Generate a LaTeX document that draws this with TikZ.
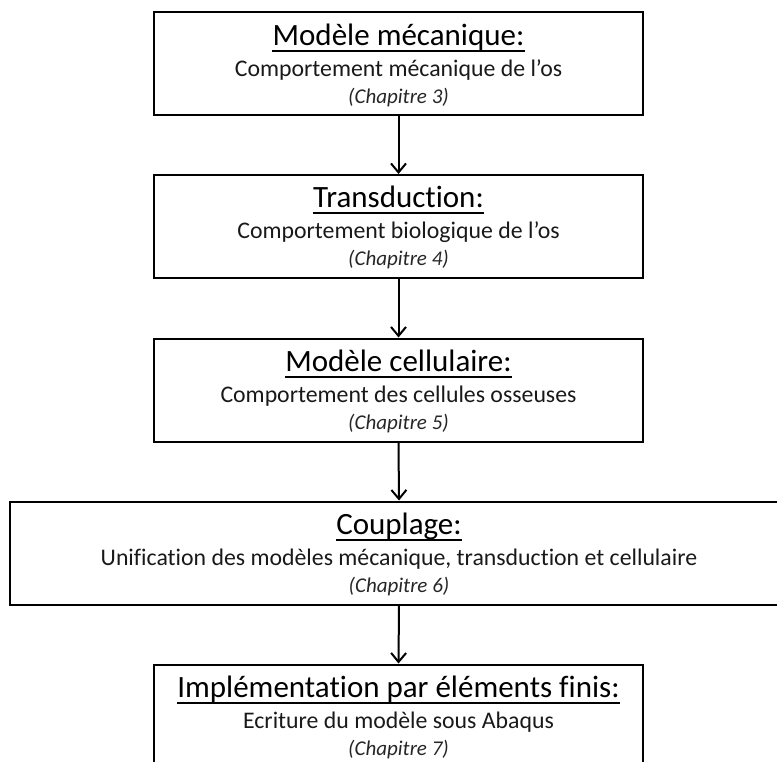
\documentclass[tikz,border=0pt]{standalone}
\usepackage{fontspec}
\setmainfont{Carlito}[Ligatures={NoCommon}]
\usetikzlibrary{arrows.meta}
\begin{document}
\begin{tikzpicture}[x=1pt,y=-1pt,
  stage/.style={draw=black,line width=2pt,minimum height=103pt,inner sep=0pt},
  ttl/.style={anchor=base,inner sep=0pt,font=\fontsize{31}{36}\selectfont,text=black},
  sub/.style={anchor=base,inner sep=0pt,font=\fontsize{23.8}{28}\selectfont,text=black!90},
  chap/.style={anchor=base,inner sep=0pt,font=\fontsize{21}{24}\selectfont\itshape,text=black!85},
  ulin/.style={line width=2pt},
  flow/.style={line width=2pt,-{Straight Barb[length=9pt,width=15pt,line width=2pt]}}]
\useasboundingbox (0,0) rectangle (777,762);
\node[stage,minimum width=489pt] (b1) at (398.5,64) {};
\node[stage,minimum width=489pt] (b2) at (398.5,226.5) {};
\node[stage,minimum width=489pt] (b3) at (398.5,390) {};
\node[stage,minimum width=778pt] (b4) at (399,553) {};
\node[stage,minimum width=489pt] (b5) at (398.5,716) {};

\node[ttl] (t1) at ([yshift=-34pt]b1.north) {Modèle mécanique:};
\node[sub] (s1) at ([yshift=-65pt]b1.north) {Comportement mécanique de l’os};
\node[chap] (c1) at ([yshift=-92pt]b1.north) {(Chapitre 3)};

\node[ttl] (t2) at ([yshift=-34pt]b2.north) {Transduction:};
\node[sub] (s2) at ([yshift=-65pt]b2.north) {Comportement biologique de l’os};
\node[chap] (c2) at ([yshift=-92pt]b2.north) {(Chapitre 4)};

\node[ttl] (t3) at ([yshift=-34pt]b3.north) {Modèle cellulaire:};
\node[sub] (s3) at ([yshift=-65pt]b3.north) {Comportement des cellules osseuses};
\node[chap] (c3) at ([yshift=-92pt]b3.north) {(Chapitre 5)};

\node[ttl] (t4) at ([yshift=-34pt]b4.north) {Couplage:};
\node[sub] (s4) at ([yshift=-65pt]b4.north) {Unification des modèles mécanique, transduction et cellulaire};
\node[chap] (c4) at ([yshift=-92pt]b4.north) {(Chapitre 6)};

\node[ttl] (t5) at ([yshift=-34pt]b5.north) {Implémentation par éléments finis:};
\node[sub] (s5) at ([yshift=-65pt]b5.north) {Ecriture du modèle sous Abaqus};
\node[chap] (c5) at ([yshift=-92pt]b5.north) {(Chapitre 7)};

\foreach \t in {t1,t2,t3,t4,t5}
  \draw[ulin] ([yshift=-5.5pt]\t.base west) -- ([yshift=-5.5pt]\t.base east);

\draw[flow] (b1.south) -- (b2.north);
\draw[flow] (b2.south) -- (b3.north);
\draw[flow] (b3.south) -- (b4.north);
\draw[flow] (b4.south) -- (b5.north);
\end{tikzpicture}
\end{document}
